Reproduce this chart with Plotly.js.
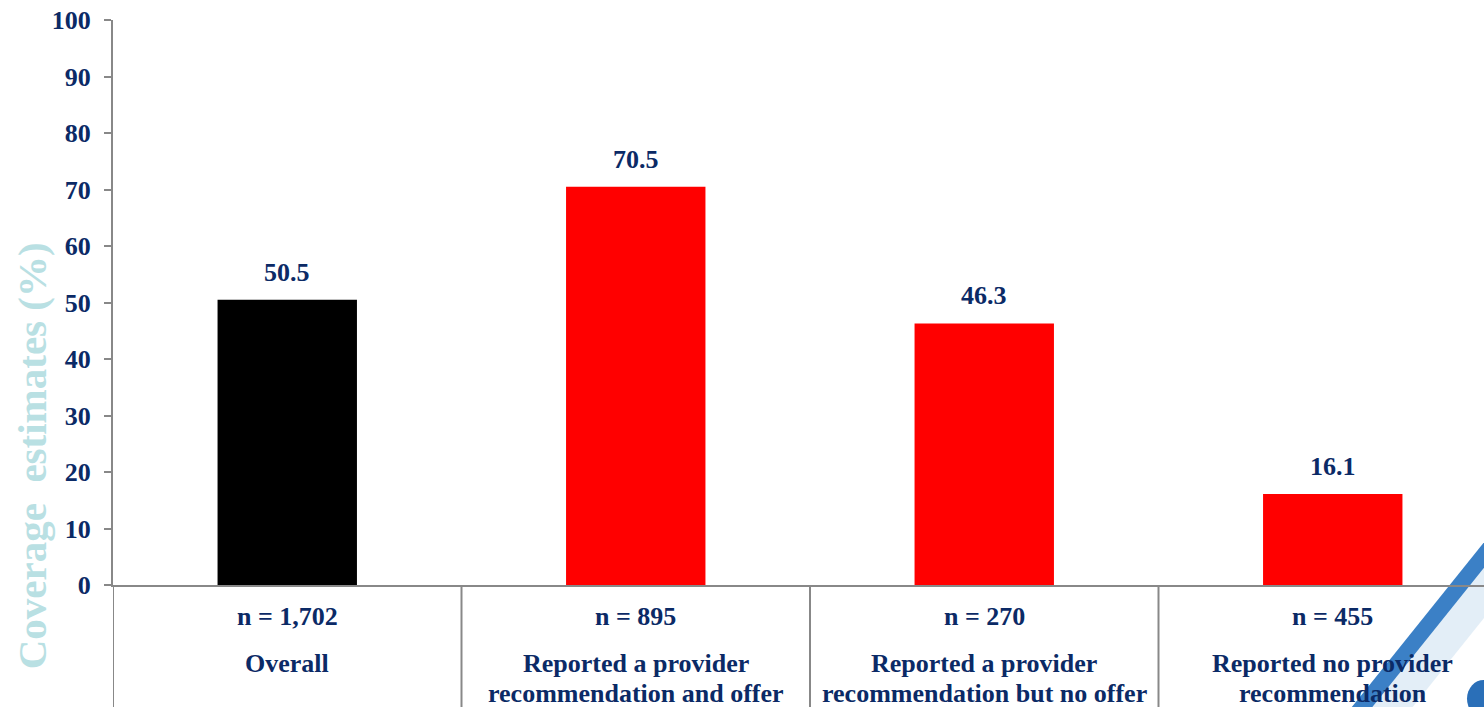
<!DOCTYPE html>
<html>
<head>
<meta charset="utf-8">
<script src="https://cdn.plot.ly/plotly-3.0.1.min.js"></script>
<style>html,body{margin:0;padding:0;overflow:hidden;background:#fff}#chart{width:1484px;height:707px}</style>
</head>
<body>
<div id="chart"></div>
<script>
const categories = [["Overall"], ["Reported a provider", "recommendation and offer"], ["Reported a provider", "recommendation but no offer"], ["Reported no provider", "recommendation"]];
const sampleSizes = ["n = 1,702", "n = 895", "n = 270", "n = 455"];
const coverage = [50.5, 70.5, 46.3, 16.1];
const barColors = ["#000000", "#ff0000", "#ff0000", "#ff0000"];
const yTicks = [0, 10, 20, 30, 40, 50, 60, 70, 80, 90, 100];

const navy = "#0b2a66";
const serif = "'Liberation Serif', 'Times New Roman', serif";
const idx = categories.map((_, i) => i);

const trace = {
  type: "bar",
  x: idx,
  y: coverage,
  width: 0.4,
  marker: {color: barColors, line: {width: 0}},
  hoverinfo: "skip"
};

const lineY = [-0.1398, -0.1912];
const annotations = [];
idx.forEach(i => {
  annotations.push({x: i, y: coverage[i], xref: "x", yref: "y", text: "<b>" + coverage[i].toFixed(1) + "</b>",
    showarrow: false, yanchor: "bottom", yshift: 11, font: {family: serif, size: 26, color: navy}});
  annotations.push({x: i, y: -0.0566, xref: "x", yref: "paper", text: "<b>" + sampleSizes[i] + "</b>",
    showarrow: false, yanchor: "middle", font: {family: serif, size: 26, color: navy}});
  categories[i].forEach((line, j) => {
    annotations.push({x: i, y: lineY[j], xref: "x", yref: "paper", text: "<b>" + line + "</b>",
      showarrow: false, yanchor: "middle", font: {family: serif, size: 26, color: navy}});
  });
});
annotations.push({x: -0.059, y: 0.228, xref: "paper", yref: "paper", text: "<b>Coverage  estimates (%)</b>",
  textangle: -90, showarrow: false, xanchor: "center", yanchor: "middle", font: {family: serif, size: 41, color: "#b9e0e3"}});

const shapes = [];
// decorative swoosh (logo) at bottom right
shapes.push({type: "line", xref: "paper", yref: "paper", x0: 1.0299, y0: 0.0885, x1: 0.9205, y1: -0.2425,
  line: {color: "rgba(200,222,240,0.5)", width: 40}, layer: "below"});
shapes.push({type: "line", xref: "paper", yref: "paper", x0: 1.0117, y0: 0.0885, x1: 0.9023, y1: -0.2425,
  line: {color: "#3b80c6", width: 16}, layer: "below"});
shapes.push({type: "circle", xref: "paper", yref: "paper", x0: 0.9876, y0: -0.168, x1: 1.012, y1: -0.235,
  fillcolor: "#2a6fb8", line: {width: 0}, layer: "below"});
// category separators
[-0.5, 0.5, 1.5, 2.5].forEach(xv => {
  shapes.push({type: "line", xref: "x", yref: "paper", x0: xv, x1: xv, y0: 0, y1: -0.25,
    line: {color: "#888888", width: 2}});
});

const layout = {
  width: 1484, height: 707,
  margin: {l: 113, r: 0, t: 20, b: 122},
  paper_bgcolor: "#ffffff", plot_bgcolor: "rgba(0,0,0,0)",
  showlegend: false,
  bargap: 0.6,
  xaxis: {range: [-0.5, 3.434], showticklabels: false, ticks: "", showgrid: false, zeroline: false,
    showline: true, linecolor: "#888888", linewidth: 2, fixedrange: true},
  yaxis: {range: [0, 100], tickvals: yTicks, ticktext: yTicks.map(v => "<b>" + v + "</b>"),
    ticks: "outside", ticklen: 7, tickwidth: 2, tickcolor: "#888888", ticklabelstandoff: 8,
    showline: true, linecolor: "#888888", linewidth: 2, showgrid: false, zeroline: false,
    tickfont: {family: serif, size: 26, color: navy}, fixedrange: true},
  annotations: annotations,
  shapes: shapes
};

Plotly.newPlot("chart", [trace], layout, {displayModeBar: false, staticPlot: true});
</script>
</body>
</html>
